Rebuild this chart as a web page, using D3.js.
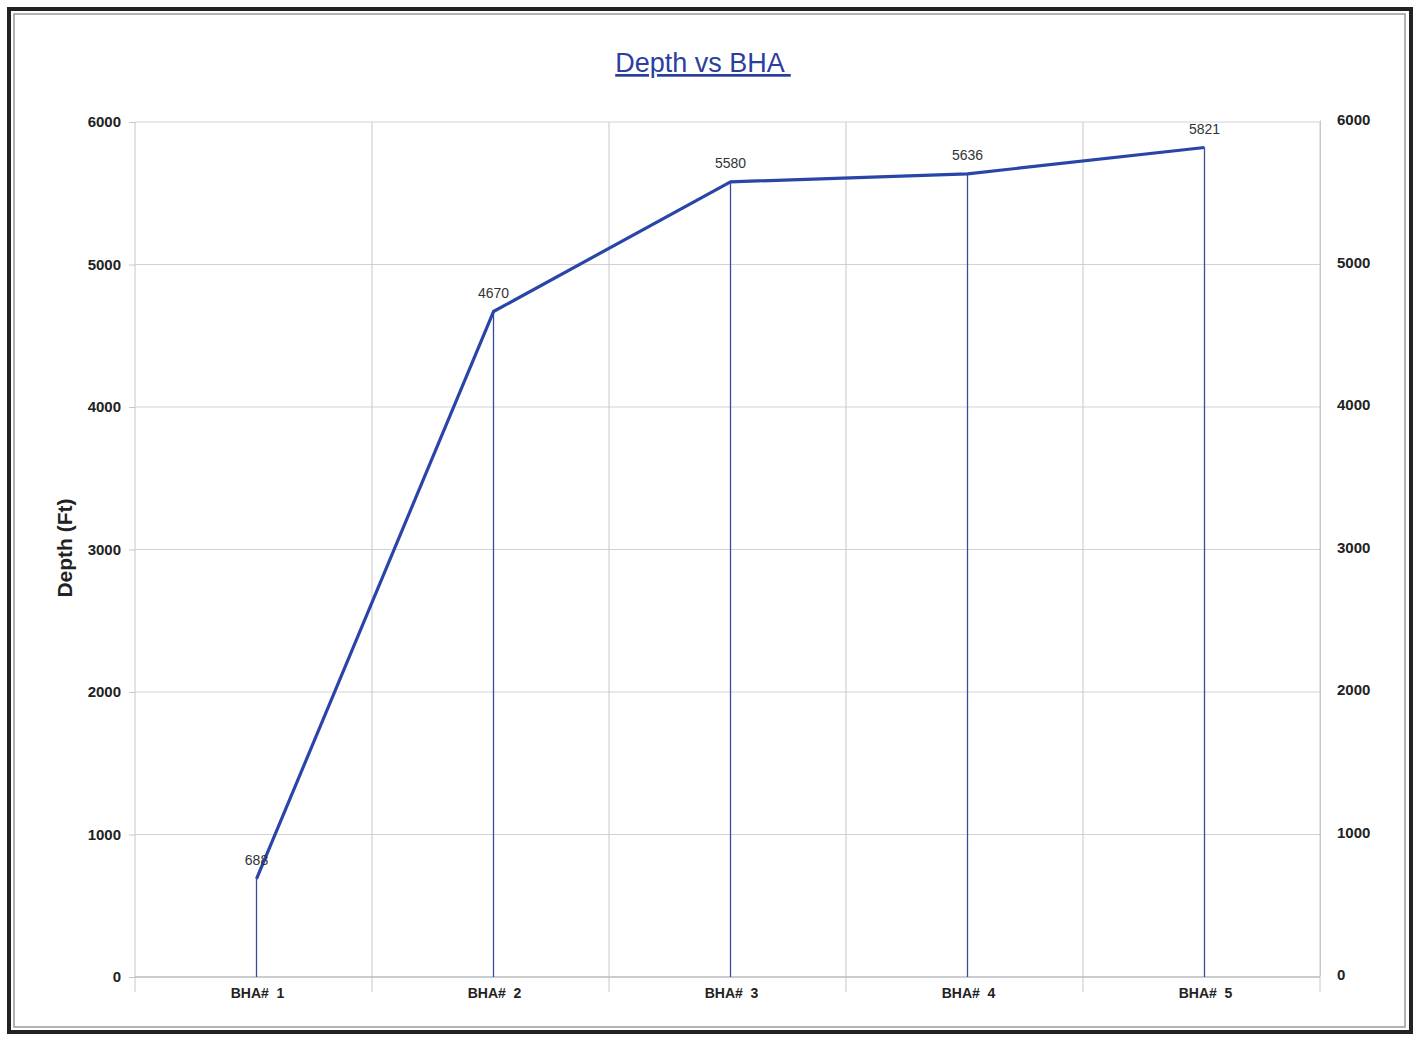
<!DOCTYPE html>
<html>
<head>
<meta charset="utf-8">
<script src="https://cdn.jsdelivr.net/npm/d3@7"></script>
<style>
  html, body { margin: 0; padding: 0; background: #ffffff; }
  svg { display: block; }
  text { white-space: pre; }
</style>
</head>
<body>
<script>
// Bottom-hole assembly runs and the depth reached by each
const categories = ["BHA#  1", "BHA#  2", "BHA#  3", "BHA#  4", "BHA#  5"];
const depths = [688, 4670, 5580, 5636, 5821];
const yTicks = [0, 1000, 2000, 3000, 4000, 5000, 6000];

const W = 1418, H = 1037;
const plot = { left: 135, right: 1320, top: 122, bottom: 977 };
const FONT = "Liberation Sans, Arial, sans-serif";

const svg = d3.select("body").append("svg")
  .attr("width", W).attr("height", H);

// Page frame
svg.append("rect").attr("x", 0).attr("y", 0).attr("width", W).attr("height", H)
  .attr("fill", "#ffffff");
svg.append("rect").attr("x", 9).attr("y", 9).attr("width", W - 16).attr("height", H - 14)
  .attr("fill", "none").attr("stroke", "#222").attr("stroke-width", 4);
svg.append("rect").attr("x", 14).attr("y", 14).attr("width", W - 27).attr("height", H - 24)
  .attr("fill", "none").attr("stroke", "#9a9a9a").attr("stroke-width", 1.5);

const x = d3.scaleBand().domain(categories)
  .range([plot.left, plot.right]).paddingInner(0).paddingOuter(0);
const y = d3.scaleLinear().domain([0, 6000]).range([plot.bottom, plot.top]);

// Horizontal gridlines
svg.append("g").selectAll("line").data(yTicks.filter(t => t > 0)).join("line")
  .attr("x1", plot.left).attr("x2", plot.right)
  .attr("y1", d => y(d)).attr("y2", d => y(d))
  .attr("stroke", "#cfd3d8").attr("stroke-width", 1);

// Vertical gridlines at category boundaries
const bounds = categories.map(c => x(c)).concat([x(categories[categories.length - 1]) + x.bandwidth()]);
svg.append("g").selectAll("line").data(bounds).join("line")
  .attr("x1", d => d).attr("x2", d => d)
  .attr("y1", plot.top).attr("y2", plot.bottom + 15)
  .attr("stroke", "#c4c8cc").attr("stroke-width", 1);

// Axis baseline
svg.append("line").attr("x1", plot.left).attr("x2", plot.right)
  .attr("y1", plot.bottom).attr("y2", plot.bottom)
  .attr("stroke", "#b8bcc0").attr("stroke-width", 1.5);

// Left value axis
const leftAxis = svg.append("g").attr("transform", `translate(${plot.left},0)`)
  .call(d3.axisLeft(y).tickValues(yTicks).tickSize(6).tickPadding(8).tickFormat(d3.format("d")));
leftAxis.select(".domain").remove();
leftAxis.selectAll("line").attr("stroke", "#c4c8cc");
leftAxis.selectAll("text").attr("font-family", FONT)
  .attr("font-size", 15).attr("font-weight", "bold").attr("fill", "#222");

// Right value axis
const rightAxis = svg.append("g").attr("transform", `translate(${plot.right},-2)`)
  .call(d3.axisRight(y).tickValues(yTicks).tickSize(0).tickPadding(17).tickFormat(d3.format("d")));
rightAxis.select(".domain").attr("stroke", "#c4c8cc");
rightAxis.selectAll("text").attr("font-family", FONT)
  .attr("font-size", 15).attr("font-weight", "bold").attr("fill", "#222");

const shift = 3;
const cx = d => x(d) + x.bandwidth() / 2 + shift;

// Category labels
const xAxis = svg.append("g").attr("transform", `translate(${shift + 1},${plot.bottom})`)
  .call(d3.axisBottom(x).tickSize(0).tickPadding(11));
xAxis.select(".domain").remove();
xAxis.selectAll("text").attr("font-family", FONT)
  .attr("font-size", 14).attr("font-weight", "bold").attr("fill", "#222");

// Drop lines from each point to the baseline
svg.append("g").selectAll("line").data(categories).join("line")
  .attr("x1", d => cx(d)).attr("x2", d => cx(d))
  .attr("y1", (d, i) => y(depths[i])).attr("y2", plot.bottom)
  .attr("stroke", "#3b4a9a").attr("stroke-width", 1.3);

// Depth line
const line = d3.line().x((d, i) => cx(categories[i])).y(d => y(d));
svg.append("path").datum(depths)
  .attr("d", line).attr("fill", "none")
  .attr("stroke", "#2a45a8").attr("stroke-width", 3.2)
  .attr("stroke-linejoin", "round");

// Value labels
svg.append("g").selectAll("text").data(depths).join("text")
  .attr("x", (d, i) => cx(categories[i]))
  .attr("y", d => y(d) - 14)
  .attr("text-anchor", "middle")
  .attr("font-family", FONT)
  .attr("font-size", 14).attr("fill", "#333")
  .text(d => d);

// Title
svg.append("text").attr("x", 703).attr("y", 72)
  .attr("text-anchor", "middle")
  .attr("font-family", FONT)
  .attr("font-size", 27).attr("fill", "#2b3f9f")
  .attr("text-decoration", "underline")
  .text("Depth vs BHA ");

// Value axis title
svg.append("text")
  .attr("transform", `translate(72,548) rotate(-90)`)
  .attr("text-anchor", "middle")
  .attr("font-family", FONT)
  .attr("font-size", 21).attr("font-weight", "bold").attr("fill", "#222")
  .text("Depth (Ft)");
</script>
</body>
</html>
